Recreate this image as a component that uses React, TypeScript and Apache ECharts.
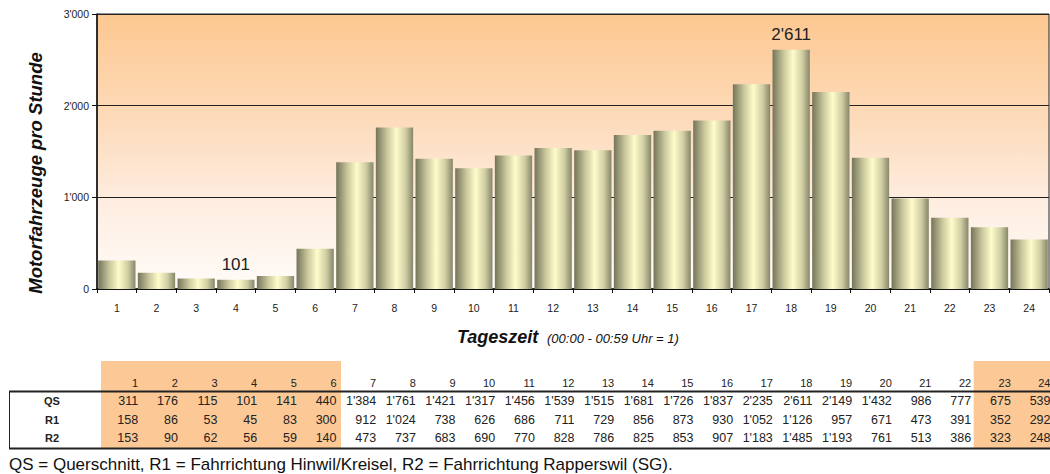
import { useEffect, useRef } from 'react';
import * as echarts from 'echarts';

// Hour of day (00:00 - 00:59 = 1)
const hours = ['1', '2', '3', '4', '5', '6', '7', '8', '9', '10', '11', '12', '13', '14', '15', '16', '17', '18', '19', '20', '21', '22', '23', '24'];
// QS = Querschnitt (cross section total)
const qs = [311, 176, 115, 101, 141, 440, 1384, 1761, 1421, 1317, 1456, 1539, 1515, 1681, 1726, 1837, 2235, 2611, 2149, 1432, 986, 777, 675, 539];
// R1 = Fahrrichtung Hinwil/Kreisel
const r1 = [158, 86, 53, 45, 83, 300, 912, 1024, 738, 626, 686, 711, 729, 856, 873, 930, 1052, 1126, 957, 671, 473, 391, 352, 292];
// R2 = Fahrrichtung Rapperswil (SG)
const r2 = [153, 90, 62, 56, 59, 140, 473, 737, 683, 690, 770, 828, 786, 825, 853, 907, 1183, 1485, 1193, 761, 513, 386, 323, 248];
const rowLabels = ['QS', 'R1', 'R2'];
// Night hours shaded in the table (first and last index, inclusive)
const nightBlocks = [[0, 5], [22, 23]];

const yMin = 0;
const yMax = 3000;
const yStep = 1000;

const FONT = '"Liberation Sans", Arial, sans-serif';
const W = 1050;
const H = 474;
const GRID = { left: 97, right: 1, top: 14, bottom: 185 };

// Swiss thousands separator: 1'384
const fmt = (v: number) =>
  v >= 1000 ? `${Math.floor(v / 1000)}'${String(v % 1000).padStart(3, '0')}` : String(v);

export default function App() {
  const ref = useRef<HTMLDivElement>(null);

  useEffect(() => {
    const chart = echarts.init(ref.current!, null, { renderer: 'svg' });
    const plotW = W - GRID.left - GRID.right;
    const colW = plotW / hours.length;
    const maxV = Math.max(...qs);
    const minV = Math.min(...qs);

    const graphic: any[] = [];

    // Table: shaded night columns
    nightBlocks.forEach(([a, b]) => {
      graphic.push({
        type: 'rect',
        z: 0,
        shape: { x: GRID.left + a * colW + 4, y: 361, width: (b - a + 1) * colW + 2, height: 87 },
        style: { fill: '#fcc996' },
      });
    });

    // Table rules
    graphic.push({ type: 'line', shape: { x1: 9, y1: 391.5, x2: W, y2: 391.5 }, style: { stroke: '#222', lineWidth: 2 } });
    graphic.push({ type: 'line', shape: { x1: 9, y1: 448.5, x2: W, y2: 448.5 }, style: { stroke: '#222', lineWidth: 2 } });
    graphic.push({ type: 'line', shape: { x1: 9.5, y1: 391, x2: 9.5, y2: 449 }, style: { stroke: '#222', lineWidth: 1 } });

    // Table header (hours)
    hours.forEach((h, i) => {
      graphic.push({
        type: 'text',
        x: GRID.left + (i + 1) * colW + 1.5,
        y: 383,
        style: { text: h, font: `11px ${FONT}`, fill: '#222', textAlign: 'right', textVerticalAlign: 'middle' },
      });
    });

    // Table rows
    const rows = [qs, r1, r2];
    const rowY = [401, 420, 438];
    rows.forEach((row, r) => {
      graphic.push({
        type: 'text',
        x: 52,
        y: rowY[r],
        style: { text: rowLabels[r], font: `bold 11px ${FONT}`, fill: '#222', textAlign: 'center', textVerticalAlign: 'middle' },
      });
      row.forEach((v, i) => {
        graphic.push({
          type: 'text',
          x: GRID.left + (i + 1) * colW + 1.5,
          y: rowY[r],
          style: { text: fmt(v), font: `12.5px ${FONT}`, fill: '#222', textAlign: 'right', textVerticalAlign: 'middle' },
        });
      });
    });

    // Axis titles
    graphic.push({
      type: 'text',
      x: 35,
      y: 173,
      rotation: Math.PI / 2,
      style: { text: 'Motorfahrzeuge pro Stunde', font: `italic bold 18.5px ${FONT}`, fill: '#111', textAlign: 'center', textVerticalAlign: 'middle' },
    });
    graphic.push({
      type: 'text',
      x: 457,
      y: 337,
      style: { text: 'Tageszeit', font: `italic bold 18px ${FONT}`, fill: '#111', textAlign: 'left', textVerticalAlign: 'middle' },
    });
    graphic.push({
      type: 'text',
      x: 547,
      y: 338,
      style: { text: '(00:00 - 00:59 Uhr = 1)', font: `italic 13px ${FONT}`, fill: '#111', textAlign: 'left', textVerticalAlign: 'middle' },
    });

    // Footnote
    graphic.push({
      type: 'text',
      x: 9,
      y: 464,
      style: {
        text: 'QS = Querschnitt, R1 = Fahrrichtung Hinwil/Kreisel, R2 = Fahrrichtung Rapperswil (SG).',
        font: `17px ${FONT}`,
        fill: '#111',
        textAlign: 'left',
        textVerticalAlign: 'middle',
      },
    });

    const barColor = new echarts.graphic.LinearGradient(0, 0, 1, 0, [
      { offset: 0, color: '#74745a' },
      { offset: 0.3, color: '#c9c79c' },
      { offset: 0.55, color: '#fffccb' },
      { offset: 0.8, color: '#cfcda2' },
      { offset: 1, color: '#86866a' },
    ]);

    chart.setOption({
      animation: false,
      textStyle: { fontFamily: FONT },
      grid: {
        ...GRID,
        show: true,
        borderColor: '#222',
        borderWidth: 1,
        backgroundColor: new echarts.graphic.LinearGradient(0, 0, 0, 1, [
          { offset: 0, color: '#fdc891' },
          { offset: 0.35, color: '#fdd9b6' },
          { offset: 0.7, color: '#feeee2' },
          { offset: 1, color: '#fffcf9' },
        ]),
      },
      xAxis: {
        type: 'category',
        data: hours,
        axisLine: { lineStyle: { color: '#111', width: 1.5 } },
        axisTick: { show: true, interval: 0, length: 4, lineStyle: { color: '#111', width: 1 } },
        axisLabel: { color: '#222', fontSize: 10.5, margin: 13, interval: 0 },
      },
      yAxis: {
        type: 'value',
        min: yMin,
        max: yMax,
        interval: yStep,
        axisLine: { show: true, lineStyle: { color: '#111', width: 1.5 } },
        axisTick: { show: true, length: 5, lineStyle: { color: '#111' } },
        axisLabel: { color: '#222', fontSize: 10.5, margin: 8, formatter: (v: number) => fmt(v) },
        splitLine: { show: true, lineStyle: { color: '#222', width: 1 } },
      },
      series: [
        {
          type: 'bar',
          barCategoryGap: '6%',
          itemStyle: { color: barColor },
          data: qs.map((v) => ({
            value: v,
            label: {
              show: v === maxV || v === minV,
              position: 'top',
              distance: 7,
              color: '#222',
              fontSize: 17,
              formatter: (p: any) => fmt(p.value),
            },
          })),
        },
      ],
      graphic,
    });

    return () => chart.dispose();
  }, []);

  return <div ref={ref} style={{ position: 'absolute', left: 0, top: 0, width: W, height: H }} />;
}
